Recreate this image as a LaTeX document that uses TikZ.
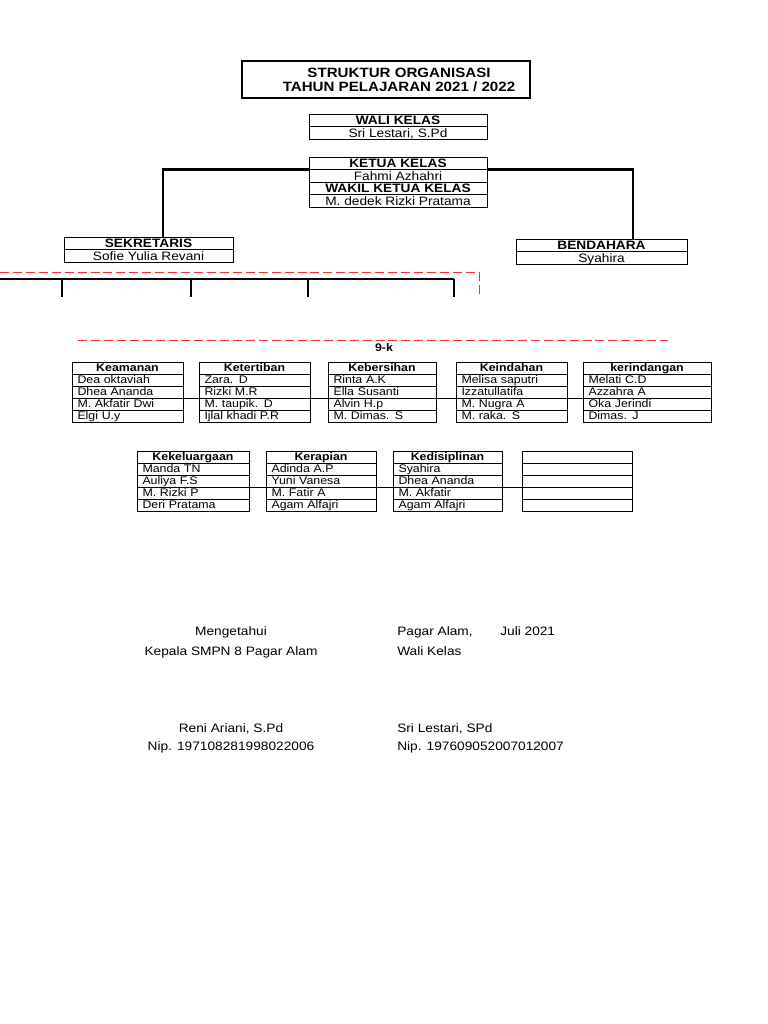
\documentclass[tikz,border=0pt]{standalone}
\usepackage{fontspec}
\setmainfont{Liberation Sans}[FakeStretch=1.12]
\usetikzlibrary{positioning,calc}
\definecolor{putus}{RGB}{250,45,45}
\tikzset{
  judul/.style={draw,line width=2pt,minimum width=7.2cm,minimum height=.925cm,inner sep=0pt},
  judulteks/.style={inner sep=0pt,align=center,font=\fontsize{9.6}{10}\selectfont\bfseries},
  jabatan/.style={draw,line width=.6pt,outer sep=0pt,inner sep=0pt,minimum height=.315cm,text height=7.5pt,text depth=1.4pt,font=\fontsize{8.7}{9.5}\selectfont\bfseries},
  nama/.style={jabatan,font=\fontsize{8.7}{9.5}\selectfont},
  sel/.style={draw,line width=.6pt,outer sep=0pt,inner sep=0pt,minimum height=.3cm,text height=6.5pt,text depth=1.5pt,font=\fontsize{7.85}{8.5}\selectfont},
  selhead/.style={sel,font=\fontsize{7.85}{8.5}\selectfont\bfseries},
  hubung/.style={line width=2pt},
  sikut/.style={line width=1.3pt},
  garisputus/.style={putus,line width=.7pt,dash pattern=on 6.4pt off 2.8pt},
  ttd/.style={font=\fontsize{8.7}{9.5}\selectfont,inner sep=0pt}
}
\begin{document}
\begin{tikzpicture}[x=.025cm,y=-.025cm]
  \useasboundingbox (0,0) rectangle (768,1024);

  % judul
  \node[judul] (title) at (386,79.5) {};
  \node[judulteks] (titleText) at (399,79.5) {STRUKTUR ORGANISASI\\TAHUN PELAJARAN 2021 / 2022};

  % wali kelas, ketua dan wakil
  \node[jabatan,minimum width=4.45cm] (waliH) at (398,120.3) {WALI KELAS};
  \node[nama,minimum width=4.45cm,below=0pt of waliH] (waliN) {Sri Lestari, S.Pd};
  \node[jabatan,minimum width=4.45cm] (ketuaH) at (398,163.3) {KETUA KELAS};
  \node[nama,minimum width=4.45cm,below=0pt of ketuaH] (ketuaN) {Fahmi Azhahri};
  \node[jabatan,minimum width=4.45cm,below=0pt of ketuaN] (wakilH) {WAKIL KETUA KELAS};
  \node[nama,minimum width=4.45cm,below=0pt of wakilH] (wakilN) {M. dedek Rizki Pratama};

  % sekretaris dan bendahara
  \node[jabatan,minimum width=4.225cm] (sekreH) at (148.5,243.3) {SEKRETARIS};
  \node[nama,minimum width=4.225cm,below=0pt of sekreH] (sekreN) {Sofie Yulia Revani};
  \node[jabatan,minimum width=4.275cm] (bendaH) at (601.5,245.3) {BENDAHARA};
  \node[nama,minimum width=4.275cm,below=0pt of bendaH] (bendaN) {Syahira};

  \draw[hubung] (ketuaH.south west) -| ([xshift=.3625cm]sekreH.north);
  \draw[hubung] (ketuaH.south east) -| ([xshift=.7875cm]bendaH.north);

  % seksi-seksi
  \draw[garisputus] (0,272) -| (479,297);
  \draw[sikut] (0,279) -- (454,279);
  \foreach \x in {62,191,308,454}{\draw[sikut] (\x,279) -- (\x,297);}
  \draw[garisputus] (78,340) -- (668,340);
  \node[font=\fontsize{7.9}{8.5}\selectfont\bfseries,inner sep=0pt] (kelas) at (384,348) {9-k};

  \foreach \x/\w/\judul/\a/\b/\c/\d [count=\i] in {
      72/111/Keamanan/Dea oktaviah/Dhea Ananda/M. Akfatir Dwi/Elgi U.y,
      199/111/Ketertiban/Zara. D/Rizki M.R/M. taupik. D/Ijlal khadi P.R,
      328/108/Kebersihan/Rinta A.K/Ella Susanti/Alvin H.p/M. Dimas. S,
      456/111/Keindahan/Melisa saputri/Izzatullatifa/M. Nugra A/M. raka. S,
      583/128/kerindangan/Melati C.D/Azzahra A/Oka Jerindi/Dimas. J}{
    \pgfmathsetmacro\lebar{\w*0.025}
    \pgfmathsetmacro\isi{(\w-11)*0.025}
    \node[selhead,minimum width=\lebar cm,anchor=north west] (a\i-0) at (\x,362) {\judul};
    \node[sel,minimum width=\lebar cm,text width=\isi cm,align=left,below=0pt of a\i-0] (a\i-1) {\a};
    \node[sel,minimum width=\lebar cm,text width=\isi cm,align=left,below=0pt of a\i-1] (a\i-2) {\b};
    \node[sel,minimum width=\lebar cm,text width=\isi cm,align=left,below=0pt of a\i-2] (a\i-3) {\c};
    \node[sel,minimum width=\lebar cm,text width=\isi cm,align=left,below=0pt of a\i-3] (a\i-4) {\d};
  }
  \draw[line width=.6pt] (a1-2.south west) -- (a5-2.south east);

  \foreach \x/\w/\judul/\a/\b/\c/\d [count=\i] in {
      137/112/Kekeluargaan/Manda TN/Auliya F.S/M. Rizki P/Deri Pratama,
      266/110/Kerapian/Adinda A.P/Yuni Vanesa/M. Fatir A/Agam Alfajri,
      393/109/Kedisiplinan/Syahira/Dhea Ananda/M. Akfatir/Agam Alfajri,
      522/110/{}/{}/{}/{}/{}}{
    \pgfmathsetmacro\lebar{\w*0.025}
    \pgfmathsetmacro\isi{(\w-11)*0.025}
    \node[selhead,minimum width=\lebar cm,anchor=north west] (b\i-0) at (\x,451) {\judul};
    \node[sel,minimum width=\lebar cm,text width=\isi cm,align=left,below=0pt of b\i-0] (b\i-1) {\a};
    \node[sel,minimum width=\lebar cm,text width=\isi cm,align=left,below=0pt of b\i-1] (b\i-2) {\b};
    \node[sel,minimum width=\lebar cm,text width=\isi cm,align=left,below=0pt of b\i-2] (b\i-3) {\c};
    \node[sel,minimum width=\lebar cm,text width=\isi cm,align=left,below=0pt of b\i-3] (b\i-4) {\d};
  }
  \draw[line width=.6pt] (b1-2.south west) -- (b4-2.south east);

  % tanda tangan
  \node[ttd,anchor=base] (tahu) at (231,635) {Mengetahui};
  \node[ttd,anchor=base] (kepsek) at (231,655) {Kepala SMPN 8 Pagar Alam};
  \node[ttd,anchor=base] (namaKs) at (231,732) {Reni Ariani, S.Pd};
  \node[ttd,anchor=base] (nipKs) at (231,750) {Nip. 197108281998022006};
  \node[ttd,anchor=base west] (tempat) at (397,635) {Pagar Alam,};
  \node[ttd,anchor=base west] (bulan) at (500,635) {Juli 2021};
  \node[ttd,anchor=base west] (walikls) at (397,655) {Wali Kelas};
  \node[ttd,anchor=base west] (namaWk) at (397,732) {Sri Lestari, SPd};
  \node[ttd,anchor=base west] (nipWk) at (397,750) {Nip. 197609052007012007};
\end{tikzpicture}
\end{document}
